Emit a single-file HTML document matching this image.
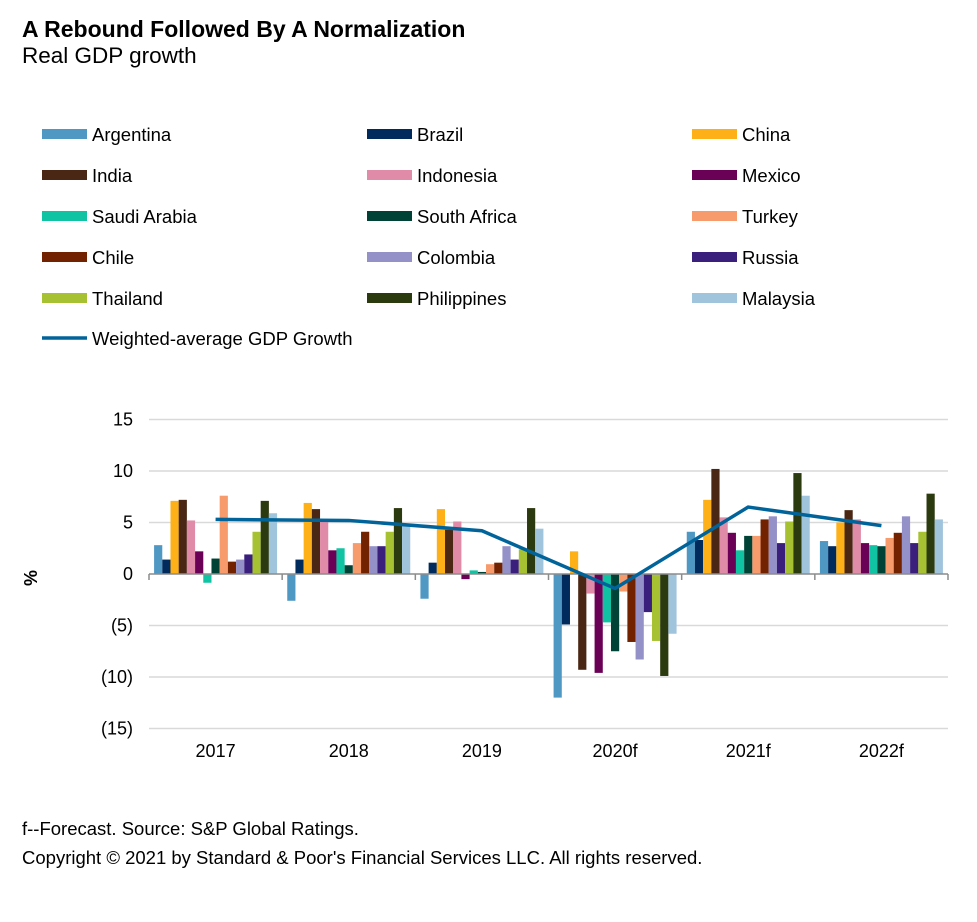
<!DOCTYPE html>
<html><head><meta charset="utf-8"><style>
body{margin:0;background:#fff;width:977px;height:922px;overflow:hidden;font-family:"Liberation Sans",Arial,sans-serif}
svg{display:block}
</style></head><body>
<svg id="c" width="977" height="922" xmlns="http://www.w3.org/2000/svg" font-family="Liberation Sans, Arial, sans-serif">
<text x="22" y="37" font-size="23" font-weight="bold" fill="#000">A Rebound Followed By A Normalization</text>
<text x="22" y="63" font-size="22.5" fill="#000">Real GDP growth</text>
<text x="22" y="835" font-size="18.5" fill="#000">f--Forecast. Source: S&amp;P Global Ratings.</text>
<text x="22" y="864" font-size="18.5" fill="#000">Copyright © 2021 by Standard &amp; Poor's Financial Services LLC. All rights reserved.</text>
<text transform="translate(37,578) rotate(-90)" text-anchor="middle" font-size="18" font-weight="bold" fill="#000">%</text>
<g id="grid"></g><g id="bars"></g><g id="axis"></g><g id="line"></g><g id="legend"></g>
</svg>
<script>
const years = ["2017","2018","2019","2020f","2021f","2022f"];
const countries = ["Argentina","Brazil","China","India","Indonesia","Mexico","Saudi Arabia","South Africa","Turkey","Chile","Colombia","Russia","Thailand","Philippines","Malaysia"];
const colors = ["#4F98C3","#002B5C","#FDB017","#4A2714","#E08CA8","#6B0057","#10C3A2","#004236","#F79A6C","#732200","#9491C8","#3A1F7D","#A6C232","#2B3A0F","#A1C4DD"];
const argentina = [2.8,-2.6,-2.4,-12.0,4.1,3.2];
const brazil = [1.4,1.4,1.1,-4.9,3.3,2.7];
const china = [7.1,6.9,6.3,2.2,7.2,5.0];
const india = [7.2,6.3,4.3,-9.3,10.2,6.2];
const indonesia = [5.2,5.2,5.1,-1.9,5.5,5.3];
const mexico = [2.2,2.3,-0.5,-9.6,4.0,3.0];
const saudi = [-0.85,2.5,0.35,-4.7,2.3,2.8];
const southAfrica = [1.5,0.85,0.2,-7.5,3.7,2.7];
const turkey = [7.6,3.0,0.95,-1.7,3.7,3.5];
const chile = [1.2,4.1,1.1,-6.6,5.3,4.0];
const colombia = [1.4,2.7,2.7,-8.3,5.6,5.6];
const russia = [1.9,2.7,1.4,-3.7,3.0,3.0];
const thailand = [4.1,4.1,2.4,-6.5,5.1,4.1];
const philippines = [7.1,6.4,6.4,-9.9,9.8,7.8];
const malaysia = [5.9,4.8,4.4,-5.8,7.6,5.3];
const weighted = [5.3,5.2,4.2,-1.4,6.5,4.7];
const yTicks = [15,10,5,0,-5,-10,-15];
const yTickLabels = ["15","10","5","0","(5)","(10)","(15)"];
const series = [argentina,brazil,china,india,indonesia,mexico,saudi,southAfrica,turkey,chile,colombia,russia,thailand,philippines,malaysia];

const NS="http://www.w3.org/2000/svg";
const X0=149, X1=948, Y0=574, PX=10.3;
const gw=(X1-X0)/years.length, bw=8.2, pad=(gw-bw*countries.length)/2;
const y=v=>Y0-v*PX;
const gx=i=>X0+gw*i;
function mk(tag,attrs,parent){const e=document.createElementNS(NS,tag);for(const k in attrs)e.setAttribute(k,attrs[k]);parent.appendChild(e);return e;}
const G=id=>document.getElementById(id);

yTicks.forEach((t,i)=>{
  if(t!==0){const l=mk("line",{x1:X0,x2:X1,y1:y(t),y2:y(t),stroke:"#d9d9d9","stroke-width":1.5},G("grid"));
  
  }
  const tx=mk("text",{x:133,y:y(t)+6,"text-anchor":"end","font-size":18,fill:"#000"},G("axis"));
  tx.textContent=yTickLabels[i];
  
  
});
series.forEach((s,ci)=>{
  s.forEach((v,yi)=>{
    const x=gx(yi)+pad+ci*bw;
    const r=mk("rect",{x:x,y:Math.min(y(v),Y0),width:bw,height:Math.abs(v*PX),fill:colors[ci]},G("bars"));
    
    
  });
});
const ax=mk("line",{x1:X0,x2:X1,y1:Y0,y2:Y0,stroke:"#8c8c8c","stroke-width":1.5},G("axis"));


for(let i=0;i<=years.length;i++){
  const t=mk("line",{x1:gx(i),x2:gx(i),y1:Y0,y2:Y0+6,stroke:"#8c8c8c","stroke-width":1.5},G("axis"));
  
  
}
years.forEach((yr,i)=>{
  const t=mk("text",{x:gx(i)+gw/2,y:757,"text-anchor":"middle","font-size":18,fill:"#000"},G("axis"));
  t.textContent=yr;
  
  
});
const pts=weighted.map((v,i)=>(gx(i)+gw/2)+","+y(v)).join(" ");
const pl=mk("polyline",{points:pts,fill:"none",stroke:"#00649B","stroke-width":3.5,"stroke-linejoin":"round"},G("line"));



const colX=[42,367,692], rowY=[134,175,216,257,298];
countries.forEach((c,i)=>{
  const gx2=colX[i%3], gy=rowY[Math.floor(i/3)];
  const g=mk("g",{},G("legend"));
  
  
  mk("rect",{x:gx2,y:gy-5,width:45,height:10,fill:colors[i]},g);
  const t=mk("text",{x:gx2+50,y:gy+7,"font-size":18.5,fill:"#000"},g);
  t.textContent=c;
});
const lg=mk("g",{},G("legend"));


mk("line",{x1:42,x2:87,y1:338,y2:338,stroke:"#00649B","stroke-width":3.5},lg);
const lt=mk("text",{x:92,y:345,"font-size":18.5,fill:"#000"},lg);
lt.textContent="Weighted-average GDP Growth";
</script>
</body></html>
